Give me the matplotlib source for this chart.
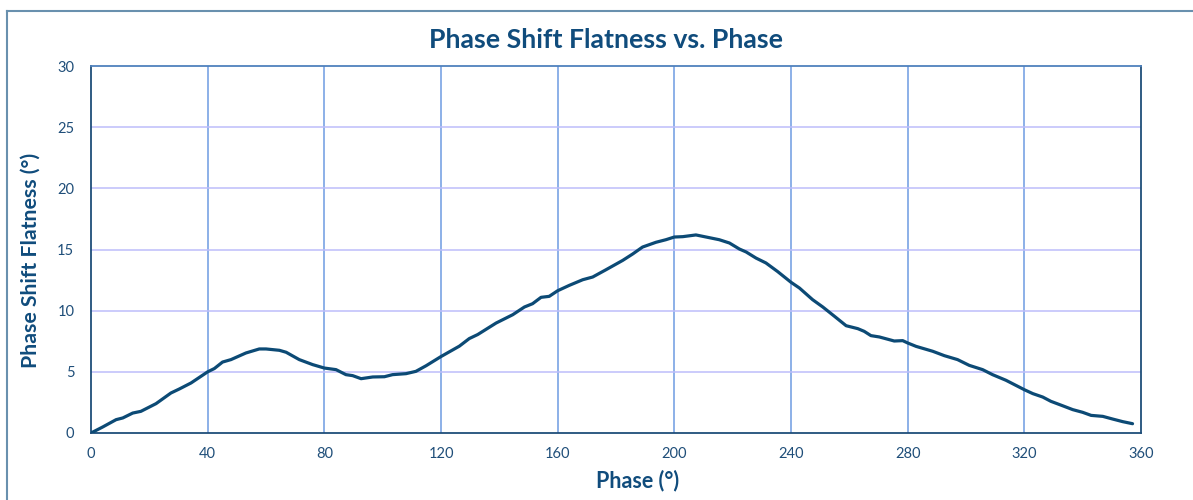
import matplotlib
matplotlib.use("Agg")
import matplotlib.pyplot as plt
from matplotlib.lines import Line2D

# ---- data ----
phase = [0, 4, 8.6, 10.9, 14.3, 17.1, 22.3, 27.4, 30.3, 34.3, 40, 42.3, 45.1, 48,
         53.1, 57.7, 60, 64.6, 66.9, 71.4, 76, 80, 84, 87.4, 89.7, 92.6, 96.6,
         100.6, 103.4, 108, 111.4, 114.9, 120, 126.3, 129.7, 132.6, 138.9, 144.6,
         148.6, 151.4, 154.3, 157.1, 160, 164, 168.6, 172, 176.6, 182.3, 185.7,
         189.1, 193.7, 197.1, 200, 202.9, 207.4, 210.9, 215.4, 218.9, 222.3,
         224.6, 228, 231.4, 235.4, 240, 242.9, 247.4, 250.9, 254.9, 258.9, 262.9,
         265.1, 267.4, 270.3, 275.4, 278.3, 280, 282.9, 288.6, 292.6, 297.1,
         301.1, 305.7, 309.1, 313.7, 320, 322.9, 326.3, 329.1, 333.1, 336.6, 340,
         342.9, 346.9, 350.3, 353.7, 357.1]
flatness = [0, 0.49, 1.09, 1.23, 1.63, 1.77, 2.4, 3.27, 3.6, 4.09, 5.0, 5.27, 5.8,
            6.0, 6.54, 6.87, 6.87, 6.76, 6.6, 6.0, 5.59, 5.31, 5.18, 4.77, 4.69,
            4.44, 4.58, 4.6, 4.77, 4.85, 5.04, 5.5, 6.25, 7.1, 7.72, 8.05, 8.99,
            9.67, 10.3, 10.57, 11.09, 11.17, 11.63, 12.07, 12.53, 12.75, 13.35,
            14.11, 14.63, 15.2, 15.59, 15.8, 16.02, 16.05, 16.19, 16.02, 15.8,
            15.53, 15.04, 14.8, 14.3, 13.9, 13.2, 12.32, 11.85, 10.9, 10.3, 9.54,
            8.77, 8.53, 8.31, 7.96, 7.85, 7.52, 7.55, 7.36, 7.08, 6.68, 6.32, 6.0,
            5.53, 5.18, 4.77, 4.31, 3.54, 3.22, 2.94, 2.59, 2.23, 1.91, 1.69, 1.44,
            1.36, 1.14, 0.93, 0.76]
x_ticks = [0, 40, 80, 120, 160, 200, 240, 280, 320, 360]
y_ticks = [0, 5, 10, 15, 20, 25, 30]
title = "Phase Shift Flatness vs. Phase"
x_label = "Phase (°)"
y_label = "Phase Shift Flatness (°)"

plt.rcParams['font.family'] = ['Lato', 'DejaVu Sans']

W, H = 1193, 500
fig = plt.figure(figsize=(W / 100, H / 100), dpi=100)
fig.patch.set_facecolor("white")

# outer chart frame (extends past right/bottom edges)
frame_col = "#6990AE"
fig.add_artist(Line2D([7 / W, 1.0], [1 - 11 / H, 1 - 11 / H], transform=fig.transFigure,
                      color=frame_col, lw=1.5))
fig.add_artist(Line2D([7 / W, 7 / W], [1 - 11 / H, 0.0], transform=fig.transFigure,
                      color=frame_col, lw=1.5))

left, right, top, bottom = 91, 1141, 66, 433
ax = fig.add_axes([left / W, 1 - bottom / H, (right - left) / W, (bottom - top) / H])

ax.set_xlim(0, 360)
ax.set_ylim(0, 30)
ax.set_xticks(x_ticks)
ax.set_yticks(y_ticks)

# grid
for xv in x_ticks[1:-1]:
    ax.axvline(xv, color="#6E9BE2", lw=1.1, zorder=1)
for yv in y_ticks[1:-1]:
    ax.axhline(yv, color="#BDBDFB", lw=1.1, zorder=1)

ax.plot(phase, flatness, color="#0C4A75", lw=2.3, zorder=3,
        solid_capstyle="round", solid_joinstyle="round")

navy = "#1F4E79"
for side in ["left", "bottom", "right"]:
    ax.spines[side].set_color(navy)
    ax.spines[side].set_linewidth(1.3)
ax.spines["top"].set_color("#4F81BD")
ax.spines["top"].set_linewidth(1.3)

ax.tick_params(length=0, labelsize=10.5, labelcolor=navy)
ax.tick_params(axis="x", pad=10)
ax.tick_params(axis="y", pad=12)

title_col = "#104C7C"
fig.text(606 / W, 1 - 40 / H, title, ha="center", va="center", fontsize=19.2,
         fontweight="bold", color=title_col)
fig.text(638 / W, 1 - 481 / H, x_label, ha="center", va="center", fontsize=15.5,
         fontweight="bold", color=title_col)
fig.text(31 / W, 1 - 260 / H, y_label, ha="center", va="center", fontsize=15.3,
         fontweight="bold", color=title_col, rotation=90)

fig.savefig("out.png", dpi=100, facecolor="white")
